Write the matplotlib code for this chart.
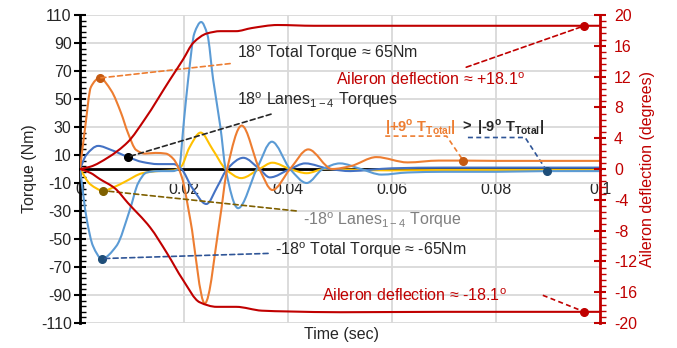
import numpy as np
import matplotlib
matplotlib.use("Agg")
import matplotlib.pyplot as plt
from matplotlib.path import Path
from matplotlib.patches import PathPatch

plt.rcParams['font.family'] = 'Liberation Sans'
plt.rcParams['mathtext.fontset'] = 'custom'
plt.rcParams['mathtext.rm'] = 'Liberation Sans'
plt.rcParams['mathtext.bf'] = 'Liberation Sans:bold'
plt.rcParams['axes.unicode_minus'] = False

# 18 deg total torque (Nm)
t_tot18 = [0, 0.001, 0.0021, 0.0038, 0.006, 0.0079, 0.0092, 0.0108, 0.0125, 0.0145, 0.0165, 0.018,
           0.0196, 0.0212, 0.024, 0.0269, 0.0283, 0.0311, 0.0345, 0.037, 0.0404, 0.0439, 0.0485,
           0.052, 0.057, 0.063, 0.069, 0.0737, 0.08, 0.09, 0.1]
v_tot18 = [0, 30, 58.6, 65, 56, 40, 26, 13.6, 11, 11.5, 11, 7,
           -6, -36, -96, -36, 0, 31, 0, -15, 0, 14, 0,
           2, 8.5, 4.7, 6, 6, 5.8, 5.8, 5.8]

# -18 deg total torque (Nm)
t_totm18 = [0, 0.0013, 0.0025, 0.0042, 0.007, 0.0096, 0.0112, 0.0128, 0.015, 0.0178, 0.019, 0.02,
            0.0208, 0.022, 0.0233, 0.0245, 0.0256, 0.027, 0.028, 0.0304, 0.034, 0.0369, 0.0404,
            0.0436, 0.0467, 0.05, 0.054, 0.058, 0.063, 0.07, 0.08, 0.0898, 0.1]
v_totm18 = [0, -36, -55, -64, -55, -29, -10, -2.5, -1.5, -1.5, 0, 35,
            64, 97, 105, 96, 64, 30, 0, -28, 0, 19.5, 0,
            -10, 0, 4, 0, -4, -2.5, -2, -2, -1.5, -1.5]

# 18 deg lanes 1-4 torques (Nm)
t_lane18 = [0, 0.0012, 0.0035, 0.006, 0.0092, 0.012, 0.015, 0.018, 0.0195, 0.0215, 0.0243, 0.0265,
            0.0283, 0.0314, 0.0345, 0.0365, 0.0404, 0.0433, 0.048, 0.052, 0.056, 0.06, 0.07, 0.08,
            0.09, 0.1]
v_lane18 = [0, 10, 16.5, 13.6, 8.6, 5, 3.5, 3.5, 0, -13, -25, -12,
            0, 8, 0, -6, 0, 4, 0, -1.5, -0.5, 0.5, 1, 1,
            1, 1]

# -18 deg lanes 1-4 torque (Nm)
t_lanem18 = [0, 0.002, 0.0045, 0.0065, 0.0087, 0.012, 0.015, 0.018, 0.0195, 0.021, 0.0232, 0.0255,
             0.028, 0.031, 0.0345, 0.037, 0.0404, 0.0436, 0.047, 0.052, 0.06, 0.07, 0.08, 0.09, 0.1]
v_lanem18 = [0, -11, -15.5, -13, -9, -3, -1.5, -1, 2, 15, 26, 14,
             0, -6.5, 0, 4.5, 0, -3, 0, -0.5, -1, -0.7, -0.7, -0.7, -0.7]

# aileron deflection (degrees)
t_ail_pos = [0, 0.002, 0.0054, 0.0092, 0.0125, 0.0173, 0.0198, 0.0218, 0.0244, 0.027, 0.030, 0.033,
             0.038, 0.045, 0.055, 0.07, 0.085, 0.097, 0.1]
v_ail_pos = [0, 0.3, 1.5, 3.5, 6.5, 11.6, 14.2, 16.4, 17.6, 17.9, 17.9, 18.3,
             18.7, 18.6, 18.6, 18.6, 18.6, 18.6, 18.6]
t_ail_neg = [0, 0.002, 0.0038, 0.0067, 0.0092, 0.0135, 0.0167, 0.0198, 0.023, 0.0263, 0.030, 0.035,
             0.04, 0.05, 0.07, 0.085, 0.097, 0.1]
v_ail_neg = [0, -0.5, -1.3, -2.5, -4.4, -7.6, -10.9, -14.4, -17.3, -17.9, -17.9, -18.4,
             -18.5, -18.6, -18.55, -18.55, -18.55, -18.55]

x_ticks = [0, 0.02, 0.04, 0.06, 0.08, 0.1]
x_labels = ['0', '0.02', '0.04', '0.06', '0.08', '0.1']

RED = '#c00000'
ORANGE = '#ed7d31'
LBLUE = '#5b9bd5'
DBLUE = '#4472c4'
YELLOW = '#ffc000'
TXT = '#262626'


def pchip_slopes(x, y):
    x = np.asarray(x, float)
    y = np.asarray(y, float)
    h = np.diff(x)
    d = np.diff(y) / h
    m = np.zeros_like(y)
    for k in range(1, len(x) - 1):
        if d[k - 1] * d[k] > 0:
            w1 = 2 * h[k] + h[k - 1]
            w2 = h[k] + 2 * h[k - 1]
            m[k] = (w1 + w2) / (w1 / d[k - 1] + w2 / d[k])
    m[0] = d[0]
    m[-1] = d[-1]
    return m


def smooth_line(ax, x, y, **kw):
    # Excel style smoothed line: cubic bezier through the points
    m = pchip_slopes(x, y)
    verts = [(x[0], y[0])]
    codes = [Path.MOVETO]
    for k in range(len(x) - 1):
        h = x[k + 1] - x[k]
        verts += [(x[k] + h / 3, y[k] + m[k] * h / 3),
                  (x[k + 1] - h / 3, y[k + 1] - m[k + 1] * h / 3),
                  (x[k + 1], y[k + 1])]
        codes += [Path.CURVE4] * 3
    ax.add_patch(PathPatch(Path(verts, codes), fill=False, capstyle='round',
                           joinstyle='round', **kw))


fig = plt.figure(figsize=(6.77, 3.48), dpi=100)
ax = fig.add_axes([80 / 677, 25 / 348, 520 / 677, 308 / 348])
ax.set_xlim(0, 0.1)
ax.set_ylim(-110, 110)

smooth_line(ax, t_lanem18, v_lanem18, ec=YELLOW, lw=1.5, zorder=3)
smooth_line(ax, t_lane18, v_lane18, ec=DBLUE, lw=1.5, zorder=3)
smooth_line(ax, t_totm18, v_totm18, ec=LBLUE, lw=1.5, zorder=3)
smooth_line(ax, t_tot18, v_tot18, ec=ORANGE, lw=1.5, zorder=3)

ax.set_yticks(range(-110, 111, 20))
ax.set_yticks(np.arange(-110, 111, 4), minor=True)
ax.set_xticks(x_ticks)
ax.set_xticklabels(x_labels)
ax.grid(True, which='major', color='#d9d9d9', lw=1.3, zorder=0)
ax.set_axisbelow(True)
for s in ['top', 'right']:
    ax.spines[s].set_visible(False)
ax.spines['bottom'].set_position(('data', 0))
ax.spines['bottom'].set_linewidth(2)
ax.spines['left'].set_linewidth(2)
ax.spines['bottom'].set_zorder(2.5)
ax.tick_params(axis='x', length=0, pad=9, labelsize=11.5, labelcolor=TXT)
ax.tick_params(axis='y', which='major', direction='inout', length=8, width=1.5, pad=2,
               labelsize=11.5, labelcolor=TXT)
ax.tick_params(axis='y', which='minor', direction='in', length=4, width=1)
ax.set_ylabel('Torque (Nm)', fontsize=11.5, color=TXT, labelpad=3)
fig.text(341 / 677, 1 - 335 / 348, 'Time (sec)', ha='center', va='center', fontsize=11.5, color=TXT)

ax2 = ax.twinx()
ax2.set_ylim(-20, 20)
smooth_line(ax2, t_ail_pos, v_ail_pos, ec=RED, lw=1.5, zorder=3)
smooth_line(ax2, t_ail_neg, v_ail_neg, ec=RED, lw=1.5, zorder=3)
ax2.set_yticks(range(-20, 21, 4))
ax2.set_yticks(np.arange(-20, 20.1, 0.8), minor=True)
for s in ['top', 'left', 'bottom']:
    ax2.spines[s].set_visible(False)
ax2.spines['right'].set_color(RED)
ax2.spines['right'].set_linewidth(2)
ax2.tick_params(axis='y', which='major', direction='inout', length=8, width=1.5, pad=6,
                labelsize=11.5, color=RED, labelcolor=RED)
ax2.tick_params(axis='y', which='minor', direction='out', length=4, width=1, color=RED)
ax2.set_ylabel('Aileron deflection (degrees)', fontsize=11.5, color=RED, labelpad=2)

dash = (0, (3, 2))


def callout(a, text, xy, xytext, tcolor, lcolor, mcolor, ha='left'):
    a.plot(*xy, 'o', color=mcolor, ms=5.5, zorder=6)
    a.annotate(text, xy=xy, xytext=xytext, ha=ha, va='center', fontsize=11.5, color=tcolor,
               arrowprops=dict(arrowstyle='-', ls=dash, color=lcolor, lw=1.2,
                               shrinkA=3, shrinkB=0), zorder=6)


callout(ax, '18$^{\\rm o}$ Total Torque \u2248 65Nm', (t_tot18[3], v_tot18[3]), (0.0302, 83),
        TXT, ORANGE, '#c55a11')
callout(ax, '18$^{\\rm o}$ Lanes$_{\\rm 1-4}$ Torques', (t_lane18[4], v_lane18[4]), (0.0301, 49),
        TXT, TXT, 'black')
callout(ax, '-18$^{\\rm o}$ Lanes$_{\\rm 1-4}$ Torque', (t_lanem18[2], v_lanem18[2]), (0.0429, -36.4),
        '#7f7f7f', '#7f6000', '#7f6000')
callout(ax, '-18$^{\\rm o}$ Total Torque \u2248 -65Nm', (t_totm18[3], v_totm18[3]), (0.0375, -58),
        TXT, '#2f5597', '#1f4e79')
callout(ax2, 'Aileron deflection \u2248 +18.1$^{\\rm o}$', (t_ail_pos[-2], v_ail_pos[-2]),
        (0.0856, 11.6), RED, RED, RED, ha='right')

# lower aileron label with its own leader
ax2.text(0.0465, -16.4, 'Aileron deflection \u2248 -18.1$^{\\rm o}$', ha='left', va='center',
         fontsize=11.5, color=RED)
ax2.plot(t_ail_neg[-2], v_ail_neg[-2], 'o', color=RED, ms=5.5, zorder=6)
ax2.plot([0.089, t_ail_neg[-2]], [-16.4, v_ail_neg[-2]], ls=dash, color=RED, lw=1.2)

# |+9 T_Total| > |-9 T_Total|
ax.text(0.0587, 30, '|+9$^{\\mathbf{o}}$ T$_{\\mathbf{Total}}$|', ha='left', va='center',
        fontsize=10.5, fontweight='bold', color=ORANGE)
ax.text(0.0743, 30, '>', ha='center', va='center', fontsize=10.5, fontweight='bold', color=TXT)
ax.text(0.0764, 30, '|-9$^{\\mathbf{o}}$ T$_{\\mathbf{Total}}$|', ha='left', va='center',
        fontsize=10.5, fontweight='bold', color=TXT)
ax.plot([0.0587, 0.0705, t_tot18[27]], [23.5, 23.5, v_tot18[27]], ls=dash, color=ORANGE, lw=1.2)
ax.plot(t_tot18[27], v_tot18[27], 'o', color='#c55a11', ms=5.5, zorder=6)
ax.plot([0.0746, 0.0856, t_totm18[31]], [22.5, 22.5, v_totm18[31]], ls=dash, color='#2f5597', lw=1.2)
ax.plot(t_totm18[31], v_totm18[31], 'o', color='#1f4e79', ms=5.5, zorder=6)

fig.savefig('out.png', dpi=100)
